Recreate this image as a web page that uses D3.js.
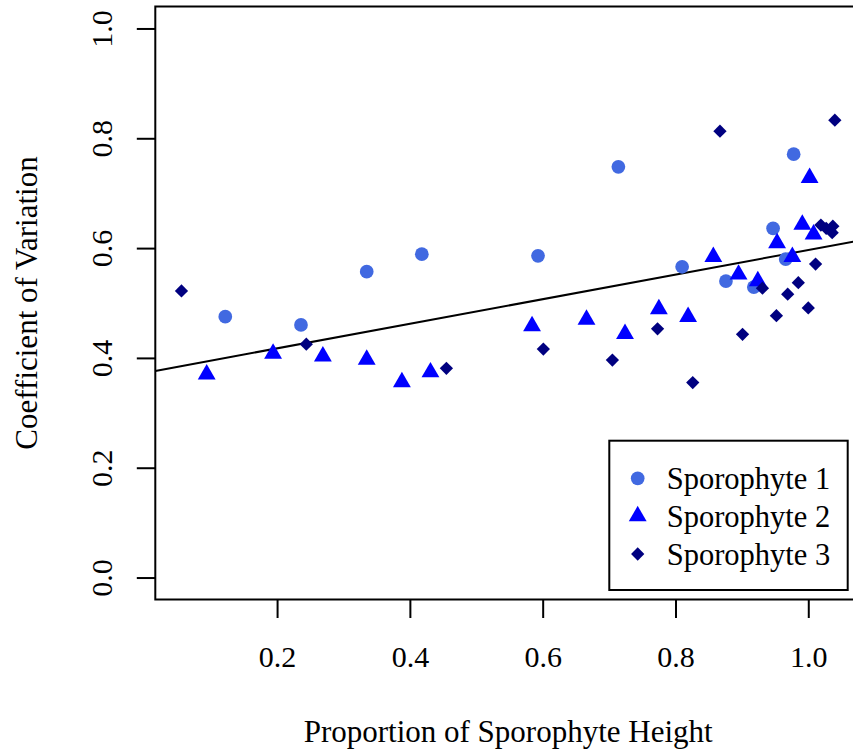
<!DOCTYPE html>
<html>
<head>
<meta charset="utf-8">
<script src="https://cdn.jsdelivr.net/npm/d3@7"></script>
<style>
  body { margin: 0; background: #fff; }
  svg text { font-family: "Liberation Serif", "DejaVu Serif", serif; }
</style>
</head>
<body>
<svg id="drawing_region"></svg>
<script>
// Sporophyte 1 (circles)
const s1_x = [0.122, 0.236, 0.335, 0.418, 0.593, 0.714, 0.810, 0.876, 0.918, 0.947, 0.966, 0.978];
const s1_y = [0.475, 0.460, 0.557, 0.589, 0.586, 0.748, 0.566, 0.540, 0.529, 0.636, 0.580, 0.771];
// Sporophyte 2 (triangles)
const s2_x = [0.094, 0.194, 0.269, 0.335, 0.388, 0.431, 0.584, 0.666, 0.724, 0.775, 0.819, 0.857, 0.895, 0.924, 0.953, 0.976, 0.991, 1.002, 1.008];
const s2_y = [0.370, 0.408, 0.403, 0.397, 0.356, 0.374, 0.458, 0.470, 0.444, 0.489, 0.475, 0.584, 0.552, 0.540, 0.609, 0.584, 0.643, 0.728, 0.625];
// Sporophyte 3 (diamonds)
const s3_x = [0.056, 0.244, 0.455, 0.601, 0.705, 0.773, 0.826, 0.867, 0.901, 0.931, 0.952, 0.969, 0.985, 1.000, 1.011, 1.019, 1.027, 1.037, 1.036, 1.040];
const s3_y = [0.522, 0.425, 0.381, 0.416, 0.396, 0.453, 0.355, 0.813, 0.443, 0.527, 0.477, 0.516, 0.537, 0.491, 0.571, 0.642, 0.636, 0.640, 0.628, 0.833];

const seriesNames = ["Sporophyte 1", "Sporophyte 2", "Sporophyte 3"];
const seriesColors = ["#4169E1", "#0000FF", "#000080"];
const xTicks = [0.2, 0.4, 0.6, 0.8, 1.0];
const yTicks = [0.0, 0.2, 0.4, 0.6, 0.8, 1.0];
// fitted line  y = a + b x
const fitIntercept = 0.3726;
const fitSlope = 0.2239;

const series = [
    s1_x.map((x, i) => ({x: x, y: s1_y[i]})),
    s2_x.map((x, i) => ({x: x, y: s2_y[i]})),
    s3_x.map((x, i) => ({x: x, y: s3_y[i]}))
];

const width = 853, height = 753;
const plot = {left: 155.3, right: 861, top: 6.5, bottom: 599.5};

const svg = d3.select('#drawing_region')
    .attr('width', width)
    .attr('height', height);

const xscale = d3.scaleLinear()
    .domain([0.0166, 1.0794])
    .range([plot.left, plot.right]);

const yscale = d3.scaleLinear()
    .domain([-0.04, 1.04])
    .range([plot.bottom, plot.top]);

svg.append('clipPath').attr('id', 'clip')
    .append('rect')
    .attr('x', plot.left).attr('y', plot.top)
    .attr('width', plot.right - plot.left)
    .attr('height', plot.bottom - plot.top);

// symbols
const symbolGen = [
    d3.symbol().type(d3.symbolCircle).size(148),
    d3.symbol().type(d3.symbolTriangle).size(138),
    d3.symbol().type(d3.symbolSquare).size(88)
];
const symbolRot = [0, 0, 45];

// regression line
const xd = xscale.domain();
const line = d3.line()
    .x(d => xscale(d))
    .y(d => yscale(fitIntercept + fitSlope * d));

svg.append('path')
    .attr('clip-path', 'url(#clip)')
    .attr('d', line(xd))
    .attr('fill', 'none')
    .attr('stroke', 'black')
    .attr('stroke-width', 2);

// points
series.forEach((data, k) => {
    svg.append('g')
        .selectAll('path')
        .data(data)
        .join('path')
        .attr('d', symbolGen[k]())
        .attr('transform', d => `translate(${xscale(d.x)},${yscale(d.y)}) rotate(${symbolRot[k]})`)
        .attr('fill', seriesColors[k]);
});

// axes
const xaxis = d3.axisBottom(xscale)
    .tickValues(xTicks)
    .tickFormat(d3.format('.1f'))
    .tickSize(18.5)
    .tickSizeOuter(0);

const xaxis_group = svg.append('g')
    .attr('transform', `translate(0, ${plot.bottom})`)
    .call(xaxis);
xaxis_group.select('.domain').remove();
xaxis_group.selectAll('line').attr('stroke-width', 2);
xaxis_group.selectAll('text')
    .attr('y', 67)
    .attr('dy', 0)
    .attr('font-size', 30)
    .attr('font-family', '"Liberation Serif", serif')
    .attr('fill', 'black');

const yaxis = d3.axisLeft(yscale)
    .tickValues(yTicks)
    .tickFormat(d3.format('.1f'))
    .tickSize(18.5)
    .tickSizeOuter(0);

const yaxis_group = svg.append('g')
    .attr('transform', `translate(${plot.left}, 0)`)
    .call(yaxis);
yaxis_group.select('.domain').remove();
yaxis_group.selectAll('line').attr('stroke-width', 2);
yaxis_group.selectAll('text')
    .attr('x', 0)
    .attr('dy', 0)
    .attr('transform', 'translate(-43.5,0) rotate(-90)')
    .attr('text-anchor', 'middle')
    .attr('font-size', 30)
    .attr('font-family', '"Liberation Serif", serif')
    .attr('fill', 'black');

// plot frame
svg.append('rect')
    .attr('x', plot.left).attr('y', plot.top)
    .attr('width', plot.right - plot.left)
    .attr('height', plot.bottom - plot.top)
    .attr('fill', 'none')
    .attr('stroke', 'black')
    .attr('stroke-width', 2);

// axis titles
svg.append('text')
    .attr('x', (plot.left + plot.right) / 2)
    .attr('y', 742)
    .attr('text-anchor', 'middle')
    .attr('font-size', 31)
    .text('Proportion of Sporophyte Height');

svg.append('text')
    .attr('transform', `translate(37, ${(plot.top + plot.bottom) / 2}) rotate(-90)`)
    .attr('text-anchor', 'middle')
    .attr('font-size', 31)
    .text('Coefficient of Variation');

// legend
const legend = svg.append('g');
legend.append('rect')
    .attr('x', 609.3).attr('y', 440.7)
    .attr('width', 238.4).attr('height', 149.3)
    .attr('fill', 'white')
    .attr('stroke', 'black')
    .attr('stroke-width', 2);

const legendRows = seriesNames.map((name, k) => ({name: name, k: k}));
const legendY = d3.scaleLinear().domain([0, 2]).range([478.3, 554]);

legend.selectAll('path.sym')
    .data(legendRows)
    .join('path')
    .attr('class', 'sym')
    .attr('d', d => symbolGen[d.k]())
    .attr('transform', d => `translate(637.7,${legendY(d.k)}) rotate(${symbolRot[d.k]})`)
    .attr('fill', d => seriesColors[d.k]);

legend.selectAll('text')
    .data(legendRows)
    .join('text')
    .attr('x', 666.7)
    .attr('y', d => legendY(d.k))
    .attr('dy', '0.35em')
    .attr('font-size', 30.5)
    .text(d => d.name);
</script>
</body>
</html>
